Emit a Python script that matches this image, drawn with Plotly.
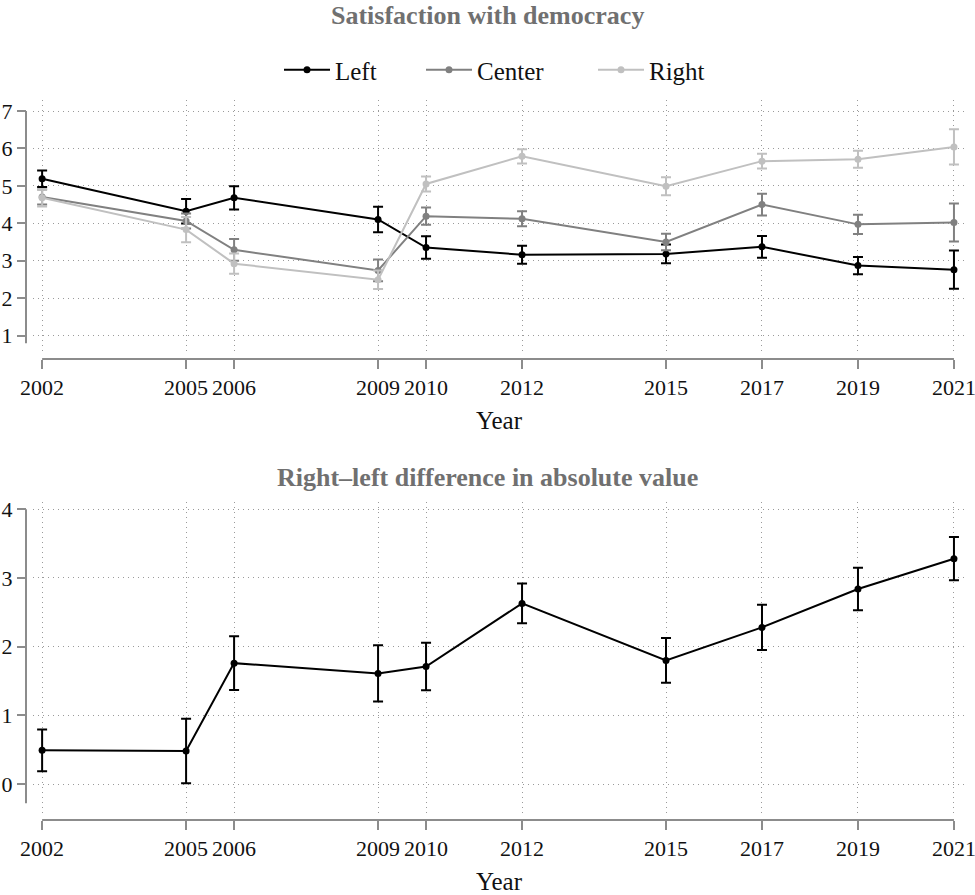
import plotly.graph_objects as go

# Survey waves
years = [2002, 2005, 2006, 2009, 2010, 2012, 2015, 2017, 2019, 2021]

# Mean satisfaction with democracy by ideological group, with CI half-widths
left = [5.19, 4.32, 4.68, 4.10, 3.35, 3.16, 3.18, 3.37, 2.87, 2.76]
left_ci = [0.22, 0.33, 0.31, 0.34, 0.30, 0.24, 0.25, 0.29, 0.23, 0.51]
center = [4.70, 4.06, 3.29, 2.74, 4.19, 4.12, 3.50, 4.50, 3.97, 4.02]
center_ci = [0.20, 0.20, 0.29, 0.29, 0.23, 0.20, 0.22, 0.29, 0.26, 0.51]
right = [4.68, 3.83, 2.92, 2.49, 5.05, 5.79, 4.99, 5.66, 5.71, 6.04]
right_ci = [0.23, 0.34, 0.27, 0.25, 0.20, 0.19, 0.24, 0.20, 0.23, 0.47]

# Absolute right-left gap
gap = [0.49, 0.48, 1.76, 1.61, 1.71, 2.63, 1.80, 2.28, 2.84, 3.28]
gap_ci = [0.305, 0.47, 0.39, 0.41, 0.345, 0.29, 0.325, 0.33, 0.31, 0.315]

top_ticks = [1, 2, 3, 4, 5, 6, 7]
bottom_ticks = [0, 1, 2, 3, 4]

FONT = "Liberation Serif"
W, H = 975, 895
AXIS_COL = "#8c8c8c"
GRID_COL = "#9a9a9a"
TITLE_COL = "#707070"
TEXT_COL = "#111111"


def px_y(p):
    return 1 - p / H


def px_x(p):
    return p / W


# name, values, CI, colour, legend id, legend left edge (px)
series = [
    ("Left", left, left_ci, "#000000", "legend", 279),
    ("Center", center, center_ci, "#808080", "legend2", 421),
    ("Right", right, right_ci, "#c0c0c0", "legend3", 593),
]

fig = go.Figure()
for name, vals, ci, col, leg, _ in series:
    fig.add_trace(go.Scatter(
        x=years, y=vals, name=name, mode="lines+markers", legend=leg,
        line=dict(color=col, width=2), marker=dict(color=col, size=7),
        error_y=dict(type="data", array=ci, color=col, thickness=2, width=5),
        xaxis="x", yaxis="y",
    ))

fig.add_trace(go.Scatter(
    x=years, y=gap, mode="lines+markers", showlegend=False,
    line=dict(color="#000000", width=2), marker=dict(color="#000000", size=7),
    error_y=dict(type="data", array=gap_ci, color="#000000", thickness=2, width=5),
    xaxis="x2", yaxis="y2",
))

x_dom = [px_x(33), px_x(965)]
x_range = [2001.81, 2021.23]


def xaxis(pos):
    return dict(
        domain=x_dom, range=x_range, anchor="free", position=pos,
        tickmode="array", tickvals=years, ticktext=[str(y) for y in years],
        ticks="outside", ticklen=9, tickwidth=2, tickcolor=AXIS_COL,
        ticklabeloverflow="allow",
        showline=False, zeroline=False,
        showgrid=True, griddash="1px,4px", gridcolor=GRID_COL, gridwidth=1,
        tickfont=dict(family=FONT, size=22, color=TEXT_COL),
        title=dict(text="Year", font=dict(family=FONT, size=25, color=TEXT_COL), standoff=12),
    )


def yaxis(dom, rng, ticks):
    return dict(
        domain=dom, range=rng, anchor="free", position=px_x(26),
        tickmode="array", tickvals=ticks, ticktext=[str(t) for t in ticks],
        ticks="outside", ticklen=9, tickwidth=2, tickcolor=AXIS_COL,
        showline=False, zeroline=False,
        showgrid=True, griddash="1px,4px", gridcolor=GRID_COL, gridwidth=1,
        tickfont=dict(family=FONT, size=22, color=TEXT_COL),
    )


top_dom = [px_y(352), px_y(100)]
bot_dom = [px_y(813), px_y(502)]

legend_common = dict(
    orientation="h", xanchor="left", y=px_y(70), yanchor="middle",
    font=dict(family=FONT, size=25, color=TEXT_COL), itemwidth=46,
    bgcolor="rgba(0,0,0,0)",
)

fig.update_layout(
    width=W, height=H,
    margin=dict(l=0, r=0, t=0, b=0, autoexpand=False),
    paper_bgcolor="white", plot_bgcolor="white",
    font=dict(family=FONT, color=TEXT_COL),
    xaxis=xaxis(px_y(359)),
    yaxis=yaxis(top_dom, [0.559, 7.294], top_ticks),
    xaxis2=xaxis(px_y(820)),
    yaxis2=yaxis(bot_dom, [-0.422, 4.106], bottom_ticks),
    showlegend=True,
)
for _, _, _, _, leg, lx in series:
    fig.update_layout({leg: dict(legend_common, x=px_x(lx))})

# Axis lines spanning only the labelled ranges
shapes = []
for xa, pos in (("x", px_y(359)), ("x2", px_y(820))):
    shapes.append(dict(type="line", xref=xa, yref="paper",
                       x0=min(years), x1=max(years), y0=pos, y1=pos,
                       line=dict(color=AXIS_COL, width=2)))
shapes.append(dict(type="line", xref="paper", yref="y",
                   x0=px_x(26), x1=px_x(26), y0=0.79, y1=max(top_ticks),
                   line=dict(color=AXIS_COL, width=2)))
shapes.append(dict(type="line", xref="paper", yref="y2",
                   x0=px_x(26), x1=px_x(26), y0=-0.28, y1=max(bottom_ticks),
                   line=dict(color=AXIS_COL, width=2)))
fig.update_layout(shapes=shapes)

fig.add_annotation(text="<b>Satisfaction with democracy</b>", xref="paper", yref="paper",
                   x=0.5, y=px_y(15), xanchor="center", yanchor="middle", showarrow=False,
                   font=dict(family=FONT, size=26, color=TITLE_COL))
fig.add_annotation(text="<b>Right–left difference in absolute value</b>", xref="paper", yref="paper",
                   x=0.5, y=px_y(477), xanchor="center", yanchor="middle", showarrow=False,
                   font=dict(family=FONT, size=26, color=TITLE_COL))

fig.write_html("out.html")
